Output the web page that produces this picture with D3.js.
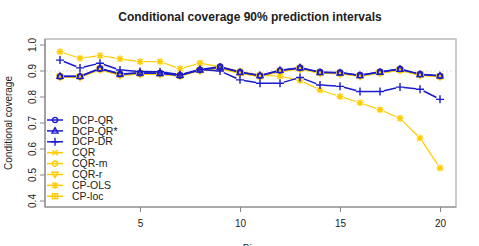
<!DOCTYPE html>
<html>
<head>
<meta charset="utf-8">
<script src="https://cdn.jsdelivr.net/npm/d3@7"></script>
<style>
  body { margin: 0; background: #fff; }
  text { font-family: "Liberation Sans", Arial, sans-serif; fill: #222; }
</style>
</head>
<body>
<svg width="479" height="246"></svg>
<script>
// bins 1..20
var bins = d3.range(1, 21);
var yTicks = [0.4, 0.5, 0.6, 0.7, 0.8, 0.9, 1.0];
var xTicks = [5, 10, 15, 20];

var dcpQR     = [0.879, 0.879, 0.909, 0.888, 0.892, 0.892, 0.883, 0.905, 0.917, 0.896, 0.882, 0.902, 0.912, 0.896, 0.894, 0.884, 0.897, 0.908, 0.888, 0.881];
var dcpQRstar = [0.880, 0.880, 0.910, 0.889, 0.893, 0.891, 0.884, 0.904, 0.914, 0.895, 0.883, 0.903, 0.913, 0.895, 0.893, 0.883, 0.896, 0.907, 0.887, 0.882];
var dcpDR     = [0.942, 0.912, 0.930, 0.904, 0.898, 0.897, 0.886, 0.906, 0.900, 0.866, 0.853, 0.853, 0.875, 0.846, 0.841, 0.821, 0.821, 0.838, 0.830, 0.791];
var cqr       = [0.877, 0.877, 0.906, 0.884, 0.889, 0.888, 0.881, 0.902, 0.910, 0.892, 0.879, 0.898, 0.909, 0.892, 0.890, 0.880, 0.893, 0.903, 0.884, 0.878];
var cqrM      = [0.878, 0.878, 0.907, 0.886, 0.890, 0.889, 0.882, 0.903, 0.912, 0.893, 0.880, 0.899, 0.910, 0.893, 0.891, 0.881, 0.894, 0.904, 0.885, 0.879];
var cqrR      = [0.876, 0.876, 0.905, 0.883, 0.888, 0.887, 0.880, 0.901, 0.909, 0.891, 0.878, 0.897, 0.907, 0.891, 0.889, 0.879, 0.892, 0.902, 0.883, 0.877];
var cpOLS     = [0.974, 0.949, 0.959, 0.947, 0.936, 0.936, 0.909, 0.930, 0.916, 0.899, 0.884, 0.880, 0.864, 0.827, 0.802, 0.778, 0.751, 0.718, 0.642, 0.527];
var cpLoc     = [0.879, 0.879, 0.908, 0.887, 0.891, 0.890, 0.882, 0.904, 0.913, 0.894, 0.881, 0.900, 0.911, 0.894, 0.892, 0.882, 0.895, 0.905, 0.886, 0.880];

var seriesNames = ["DCP-QR", "DCP-QR*", "DCP-DR", "CQR", "CQR-m", "CQR-r", "CP-OLS", "CP-loc"];
var seriesValues = [dcpQR, dcpQRstar, dcpDR, cqr, cqrM, cqrR, cpOLS, cpLoc];
var seriesShapes = ["circle", "triangle", "plus", "cross", "circle", "down", "asterisk", "squareplus"];
var blue = "#1a1acf", gold = "#ffcc00";
var seriesColors = [blue, blue, blue, gold, gold, gold, gold, gold];

var svg = d3.select("svg");
var x = d3.scaleLinear().domain([0.25, 20.8]).range([45, 456]);
var y = d3.scaleLinear().domain([0.4, 1.0]).range([201, 45]);
var plotTop = 39, plotBottom = 207;

// box
svg.append("rect").attr("x", 45).attr("y", plotTop).attr("width", 411).attr("height", plotBottom - plotTop)
  .attr("fill", "none").attr("stroke", "#bbb").attr("stroke-width", 1.5);
svg.append("line").attr("x1", 45).attr("x2", 45).attr("y1", plotTop).attr("y2", plotBottom)
  .attr("stroke", "#888").attr("stroke-width", 1.2);
svg.append("line").attr("x1", 45).attr("x2", 456).attr("y1", plotBottom).attr("y2", plotBottom)
  .attr("stroke", "#888").attr("stroke-width", 1.2);

// reference line at 0.9
svg.append("line").attr("x1", 46).attr("x2", 455).attr("y1", y(0.9)).attr("y2", y(0.9))
  .attr("stroke", "#ddd").attr("stroke-dasharray", "2,2");

// axes
var yAxis = svg.append("g").attr("transform", "translate(45,0)")
  .call(d3.axisLeft(y).tickValues(yTicks).tickFormat(d3.format(".1f")).tickSize(5).tickPadding(4));
yAxis.select(".domain").remove();
yAxis.selectAll(".tick").attr("transform", null);
yAxis.selectAll(".tick line").attr("stroke", "#888")
  .attr("y1", function(d) { return y(d); }).attr("y2", function(d) { return y(d); });
yAxis.selectAll(".tick text").attr("font-size", 10).attr("fill", "#222")
  .attr("x", -13).attr("y", function(d) { return y(d); })
  .attr("dy", "0.35em").attr("text-anchor", "middle")
  .attr("transform", function(d) { return "rotate(-90," + (-13) + "," + y(d) + ")"; });

var xAxis = svg.append("g").attr("transform", "translate(0," + plotBottom + ")")
  .call(d3.axisBottom(x).tickValues(xTicks).tickSize(5).tickPadding(8));
xAxis.select(".domain").remove();
xAxis.selectAll("line").attr("stroke", "#888");
xAxis.selectAll("text").attr("font-size", 10).attr("fill", "#222");

// titles
svg.append("text").attr("x", 250).attr("y", 21).attr("text-anchor", "middle")
  .attr("font-size", 12).attr("font-weight", "bold").text("Conditional coverage 90% prediction intervals");
svg.append("text").attr("transform", "translate(12,123) rotate(-90)").attr("text-anchor", "middle")
  .attr("font-size", 10).text("Conditional coverage");
svg.append("text").attr("x", 250).attr("y", 252).attr("text-anchor", "middle")
  .attr("font-size", 10).text("Bin");

function symbolPath(shape, cx, cy) {
  var r = 2.6;
  switch (shape) {
    case "circle":
      return "M" + (cx + r) + "," + cy + "A" + r + "," + r + " 0 1,1 " + (cx - r) + "," + cy + "A" + r + "," + r + " 0 1,1 " + (cx + r) + "," + cy;
    case "triangle":
      return "M" + cx + "," + (cy - 3.2) + "L" + (cx + 3) + "," + (cy + 2.2) + "L" + (cx - 3) + "," + (cy + 2.2) + "Z";
    case "down":
      return "M" + cx + "," + (cy + 3.2) + "L" + (cx + 3) + "," + (cy - 2.2) + "L" + (cx - 3) + "," + (cy - 2.2) + "Z";
    case "plus":
      return "M" + (cx - 4) + "," + cy + "H" + (cx + 4) + "M" + cx + "," + (cy - 4) + "V" + (cy + 4);
    case "cross":
      return "M" + (cx - r) + "," + (cy - r) + "L" + (cx + r) + "," + (cy + r) + "M" + (cx - r) + "," + (cy + r) + "L" + (cx + r) + "," + (cy - r);
    case "asterisk":
      return "M" + (cx - 3.5) + "," + cy + "H" + (cx + 3.5) + "M" + cx + "," + (cy - 3.5) + "V" + (cy + 3.5) +
        "M" + (cx - r) + "," + (cy - r) + "L" + (cx + r) + "," + (cy + r) + "M" + (cx - r) + "," + (cy + r) + "L" + (cx + r) + "," + (cy - r);
    case "squareplus":
      return "M" + (cx - r) + "," + (cy - r) + "H" + (cx + r) + "V" + (cy + r) + "H" + (cx - r) + "Z" +
        "M" + (cx - r) + "," + cy + "H" + (cx + r) + "M" + cx + "," + (cy - r) + "V" + (cy + r);
  }
}

// gaps around points like R type="b"
function gappedSegments(vals) {
  var segs = [], gap = 4;
  for (var i = 0; i < vals.length - 1; i++) {
    var x0 = x(bins[i]), y0 = y(vals[i]), x1 = x(bins[i + 1]), y1 = y(vals[i + 1]);
    var dx = x1 - x0, dy = y1 - y0, len = Math.sqrt(dx * dx + dy * dy);
    if (len <= 2 * gap) continue;
    segs.push([[x0 + dx * gap / len, y0 + dy * gap / len], [x1 - dx * gap / len, y1 - dy * gap / len]]);
  }
  return segs;
}

var order = [3, 4, 5, 6, 7, 0, 1, 2];
order.forEach(function(k) {
  var g = svg.append("g");
  var col = seriesColors[k];
  var lw = col === blue ? 1.5 : 1.2;
  g.selectAll("line.seg").data(gappedSegments(seriesValues[k])).enter().append("line")
    .attr("x1", function(s) { return s[0][0]; }).attr("y1", function(s) { return s[0][1]; })
    .attr("x2", function(s) { return s[1][0]; }).attr("y2", function(s) { return s[1][1]; })
    .attr("stroke", col).attr("stroke-width", lw);
  g.selectAll("path").data(seriesValues[k]).enter().append("path")
    .attr("d", function(v, i) { return symbolPath(seriesShapes[k], x(bins[i]), y(v)); })
    .attr("fill", "none").attr("stroke", col).attr("stroke-width", 1.4);
});

// legend
var leg = svg.append("g");
seriesNames.forEach(function(name, k) {
  var ly = 120 + k * 10.9;
  leg.append("line").attr("x1", 47).attr("x2", 63).attr("y1", ly).attr("y2", ly)
    .attr("stroke", seriesColors[k]).attr("stroke-width", 1.5);
  leg.append("path").attr("d", symbolPath(seriesShapes[k], 55, ly))
    .attr("fill", "none").attr("stroke", seriesColors[k]).attr("stroke-width", 1.4);
  leg.append("text").attr("x", 72).attr("y", ly).attr("dy", "0.35em").attr("font-size", 10.5).text(name);
});
</script>
</body>
</html>
